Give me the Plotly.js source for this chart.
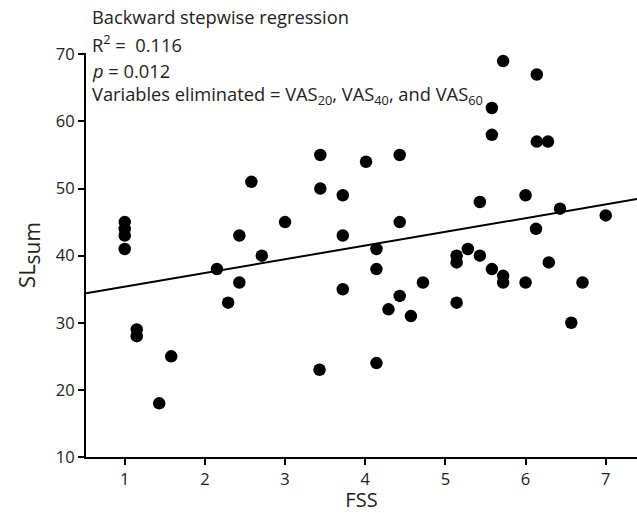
<!DOCTYPE html>
<html>
<head>
<meta charset="utf-8">
<script src="https://cdn.plot.ly/plotly-3.0.1.min.js"></script>
<style>html,body{margin:0;padding:0;background:#fff;}#chart{width:637px;height:513px;}</style>
</head>
<body>
<div id="chart"></div>
<script>
// FSS (x) and SL_sum (y) values
const fss = [1.0, 1.0, 1.0, 1.0, 1.15, 1.15, 1.43, 1.58, 2.15, 2.29, 2.43, 2.43, 2.58, 2.71, 3.0,
  3.44, 3.44, 3.43, 3.72, 3.72, 3.72, 4.01, 4.14, 4.14, 4.14, 4.29, 4.43, 4.43, 4.43, 4.57, 4.72,
  5.14, 5.14, 5.14, 5.28, 5.43, 5.43, 5.58, 5.58, 5.58, 5.72, 5.72, 5.72, 6.0, 6.0,
  6.14, 6.14, 6.13, 6.28, 6.29, 6.43, 6.57, 6.71, 7.0];
const slSum = [45, 44, 43, 41, 29, 28, 18, 25, 38, 33, 43, 36, 51, 40, 45,
  55, 50, 23, 49, 43, 35, 54, 41, 38, 24, 32, 55, 45, 34, 31, 36,
  40, 39, 33, 41, 48, 40, 62, 58, 38, 69, 37, 36, 49, 36,
  67, 57, 44, 57, 39, 47, 30, 36, 46];
// Regression line end points
const fitX = [0.517, 7.39];
const fitY = [34.4, 48.43];
const xTicks = [1, 2, 3, 4, 5, 6, 7];
const yTicks = [10, 20, 30, 40, 50, 60, 70];

const font = "'Open Sans', 'Noto Sans', sans-serif";
const traces = [
  {x: fitX, y: fitY, type: 'scatter', mode: 'lines', line: {color: '#000', width: 2}, hoverinfo: 'skip'},
  {x: fss, y: slSum, type: 'scatter', mode: 'markers', marker: {color: '#000', size: 12.5}}
];
function ann(text, py) {
  return {text: text, xref: 'paper', yref: 'paper', x: 0.008, y: (457 - py) / 404,
    xanchor: 'left', yanchor: 'middle', showarrow: false, align: 'left',
    font: {family: font, size: 18.3, color: '#222'}};
}
const layout = {
  width: 637, height: 513,
  margin: {l: 86, r: 0, t: 53, b: 56},
  paper_bgcolor: '#fff', plot_bgcolor: '#fff',
  showlegend: false,
  font: {family: font, color: '#222'},
  xaxis: {range: [0.517, 7.39], tickvals: xTicks, ticks: 'outside', ticklen: 6, tickwidth: 2,
    tickcolor: '#000', showline: true, linecolor: '#000', linewidth: 2, showgrid: false, zeroline: false,
    tickfont: {family: font, size: 16.5, color: '#222'},
    title: {text: 'FSS', font: {family: font, size: 20, color: '#222'}, standoff: 9}},
  yaxis: {range: [10, 70.2], tickvals: yTicks, ticks: 'outside', ticklen: 6, tickwidth: 2,
    tickcolor: '#000', showline: true, linecolor: '#000', linewidth: 2, showgrid: false, zeroline: false,
    tickfont: {family: font, size: 16.5, color: '#222'},
    title: {text: 'SL<sub><span style="font-size:21px">sum</span></sub>', font: {family: font, size: 22, color: '#222'}, standoff: 14}},
  annotations: [
    ann('Backward stepwise regression', 17),
    ann('R<sup>2</sup> =  0.116', 44),
    ann('<i>p</i> = 0.012', 70),
    ann('Variables eliminated = VAS<sub>20</sub>, VAS<sub>40</sub>, and VAS<sub>60</sub>', 95)
  ]
};
Plotly.newPlot('chart', traces, layout, {displayModeBar: false, staticPlot: true});
</script>
</body>
</html>
